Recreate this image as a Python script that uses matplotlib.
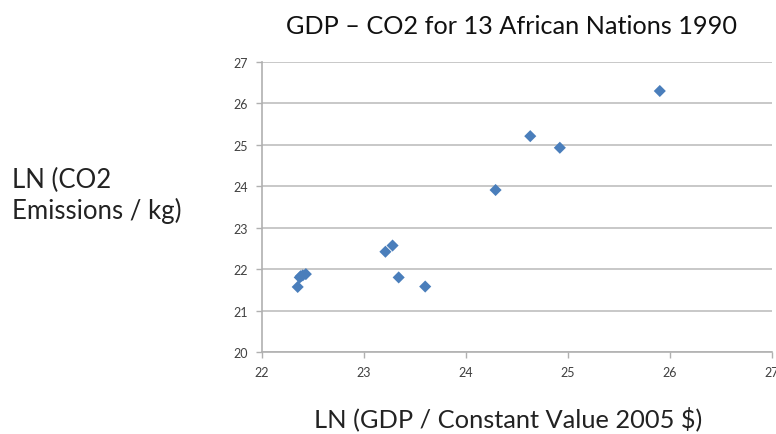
import matplotlib
matplotlib.use("Agg")
import matplotlib.pyplot as plt

# Data
gdp_ln = [22.35, 22.37, 22.38, 22.40, 22.43, 23.21, 23.28, 23.34, 23.60, 24.29, 24.63, 24.92, 25.90]
co2_ln = [21.57, 21.80, 21.83, 21.85, 21.88, 22.42, 22.57, 21.80, 21.58, 23.91, 25.21, 24.93, 26.30]
x_ticks = [22, 23, 24, 25, 26, 27]
y_ticks = [20, 21, 22, 23, 24, 25, 26, 27]

title = "GDP \u2013 CO2 for 13 African Nations 1990"
xlabel = "LN (GDP / Constant Value 2005 $)"
ylabel = "LN (CO2\nEmissions / kg)"

plt.rcParams['font.family'] = ['Lato', 'DejaVu Sans']

fig = plt.figure(figsize=(7.76, 4.35), dpi=100)
ax = fig.add_axes([262/776, 1-353/435, (772-262)/776, (353-63)/435])

ax.scatter(gdp_ln, co2_ln, marker='D', s=38, color='#4a7ebb', edgecolors='none', zorder=3)

ax.set_xlim(22, 27)
ax.set_ylim(20, 27)
ax.set_xticks(x_ticks)
ax.set_yticks(y_ticks)
ax.yaxis.grid(True, color='#bfbfbf', linewidth=1.2)
ax.set_axisbelow(True)
for s in ['top', 'right']:
    ax.spines[s].set_visible(False)
for s in ['left', 'bottom']:
    ax.spines[s].set_color('#b0b0b0')
    ax.spines[s].set_linewidth(1.2)
ax.tick_params(axis='both', colors='#b0b0b0', labelcolor='#404040', labelsize=9, length=4, width=1)
ax.tick_params(axis='x', pad=6)
ax.tick_params(axis='y', pad=6)

fig.text(512/776, 1-27/435, title, ha='center', va='center', fontsize=18.2, color='#111111')
fig.text(12/776, 1-196/435, ylabel, ha='left', va='center', fontsize=18.5, color='#222222', linespacing=1.25)
fig.text(508/776, 1-419/435, xlabel, ha='center', va='center', fontsize=18.3, color='#222222')

fig.savefig('out.png', dpi=100)
